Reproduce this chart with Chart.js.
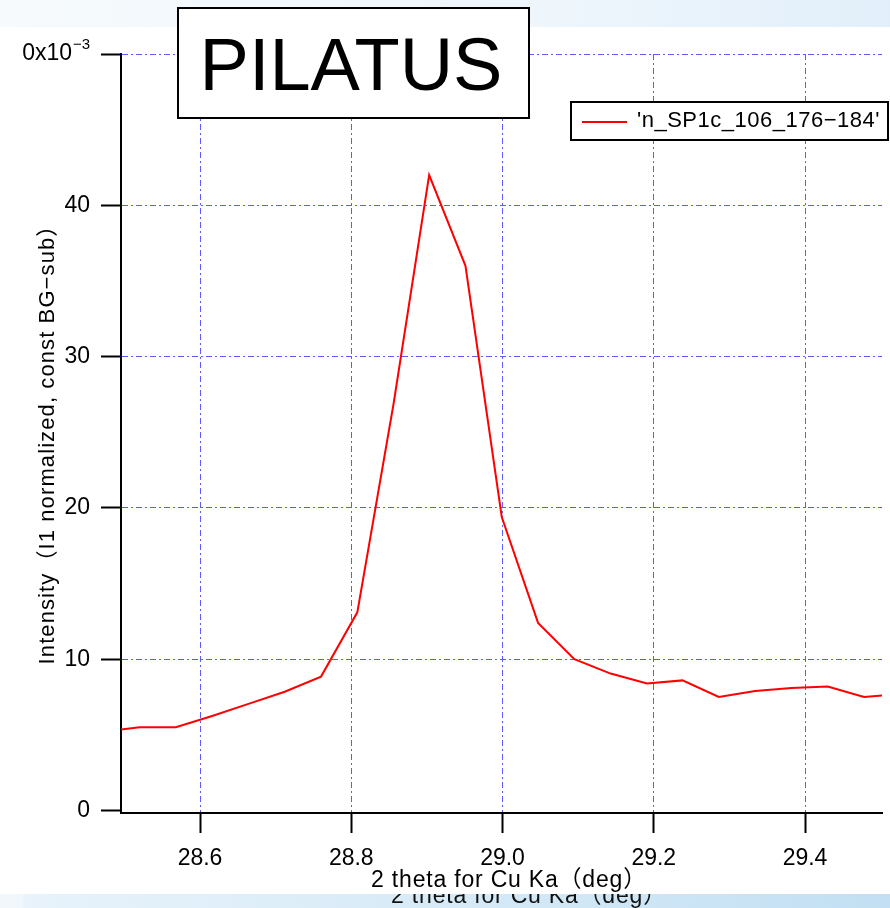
<!DOCTYPE html>
<html>
<head>
<meta charset="utf-8">
<script src="https://cdn.jsdelivr.net/npm/chart.js@4"></script>
<style>
  html, body { margin: 0; padding: 0; background: #fff; }
  #wrap { width: 890px; height: 908px; }
</style>
</head>
<body>
<div id="wrap"><canvas id="pilatusChart" width="890" height="908"></canvas></div>
<script>
// values (intensity in units of 10^-3)
const twoTheta = [28.472, 28.520, 28.568, 28.616, 28.664, 28.712, 28.760, 28.808, 28.856, 28.903, 28.951, 28.999,
	29.047, 29.095, 29.143, 29.191, 29.238, 29.286, 29.334, 29.382, 29.430, 29.478, 29.526];
const intensity = [5.2, 5.5, 5.5, 6.25, 7.05, 7.85, 8.85, 13.1, 26.9, 42.0, 36.0, 19.4,
	12.4, 10.0, 9.05, 8.4, 8.6, 7.5, 7.9, 8.1, 8.2, 7.5, 7.7];
const xTicks = [28.6, 28.8, 29.0, 29.2, 29.4];
const yTicks = [0, 10, 20, 30, 40, 50];
const seriesName = "'n_SP1c_106_176−184'";
const xTitle = "2 theta for Cu Ka（deg）";
const yTitle = "Intensity（I1 normalized, const BG−sub）";
const yExponent = "−3";
const panelLabel = "PILATUS";

const fontFamily = "'Liberation Sans', Arial, 'Noto Sans CJK JP', sans-serif";
const gridColor = "#5c5cff";

const decorations = {
	id: "decorations",
	beforeDraw(chart) {
		const ctx = chart.ctx;
		ctx.save();
		ctx.fillStyle = "#fff";
		ctx.fillRect(0, 0, 890, 908);

		// pale blue strip at the top
		const top = ctx.createLinearGradient(0, 0, 890, 0);
		top.addColorStop(0, "#f6fafd");
		top.addColorStop(0.55, "#f0f7fc");
		top.addColorStop(1, "#e2effa");
		ctx.fillStyle = top;
		ctx.fillRect(0, 0, 890, 27);

		// strip at the bottom with the ghost axis title
		ctx.fillStyle = "#f2f7fb";
		ctx.fillRect(0, 894, 23, 14);
		const bot = ctx.createLinearGradient(23, 0, 890, 0);
		bot.addColorStop(0, "#e8f3fb");
		bot.addColorStop(0.5, "#d6eaf7");
		bot.addColorStop(1, "#c2dff3");
		ctx.fillStyle = bot;
		ctx.fillRect(23, 894, 867, 14);
		ctx.beginPath();
		ctx.rect(23, 894, 867, 14);
		ctx.clip();
		ctx.fillStyle = "#111";
		ctx.font = "23px " + fontFamily;
		ctx.letterSpacing = "0.8px";
		ctx.textAlign = "center";
		ctx.textBaseline = "middle";
		ctx.fillText(xTitle, 529, 897);
		ctx.restore();
	},
	afterDraw(chart) {
		const ctx = chart.ctx;
		const yScale = chart.scales.y;
		ctx.save();
		ctx.fillStyle = "#000";

		// x axis title
		ctx.font = "23px " + fontFamily;
		ctx.letterSpacing = "0.8px";
		ctx.textAlign = "center";
		ctx.textBaseline = "middle";
		ctx.fillText(xTitle, 509, 881);

		// y axis title
		ctx.save();
		ctx.translate(48, 439);
		ctx.rotate(-Math.PI / 2);
		ctx.font = "22px " + fontFamily;
		ctx.letterSpacing = "1.1px";
		ctx.fillText(yTitle, 0, 0);
		ctx.restore();
		ctx.letterSpacing = "0px";

		// top tick label with exponent, cut by the left edge of the figure
		const yTop = yScale.getPixelForValue(yTicks[yTicks.length - 1]);
		ctx.save();
		ctx.beginPath();
		ctx.rect(22, 30, 80, 50);
		ctx.clip();
		ctx.font = "23px " + fontFamily;
		ctx.textAlign = "right";
		ctx.fillText(yTicks[yTicks.length - 1] + "x10", 72, yTop);
		ctx.font = "15px " + fontFamily;
		ctx.textAlign = "left";
		ctx.fillText(yExponent, 73, yTop - 9);
		ctx.restore();

		// legend box
		ctx.fillStyle = "#fff";
		ctx.fillRect(571, 102, 317, 38);
		ctx.strokeStyle = "#000";
		ctx.lineWidth = 2;
		ctx.strokeRect(571, 102, 317, 38);
		ctx.strokeStyle = "#ff0000";
		ctx.beginPath();
		ctx.moveTo(582, 122);
		ctx.lineTo(627, 122);
		ctx.stroke();
		ctx.fillStyle = "#000";
		ctx.font = "22px " + fontFamily;
		ctx.letterSpacing = "0.5px";
		ctx.textAlign = "left";
		ctx.fillText(chart.data.datasets[0].label, 637, 121);
		ctx.letterSpacing = "0px";

		// panel label
		ctx.fillStyle = "#fff";
		ctx.fillRect(178, 8, 351, 110);
		ctx.strokeStyle = "#000";
		ctx.lineWidth = 2;
		ctx.strokeRect(178, 8, 351, 110);
		ctx.fillStyle = "#000";
		ctx.font = "74px " + fontFamily;
		ctx.textAlign = "center";
		ctx.textBaseline = "alphabetic";
		ctx.fillText(panelLabel, 351, 90);
		ctx.restore();
	},
};

const points = twoTheta.map((x, i) => ({ x: x, y: intensity[i] }));

new Chart(document.getElementById("pilatusChart"), {
	type: "line",
	data: {
		datasets: [
			{
				label: seriesName,
				data: points,
				borderColor: "#ff0000",
				borderWidth: 2,
				pointRadius: 0,
				tension: 0,
				fill: false,
			},
		],
	},
	options: {
		responsive: false,
		animation: false,
		devicePixelRatio: 1,
		layout: { padding: { top: 54, right: 8, left: 0, bottom: 0 } },
		plugins: {
			legend: { display: false },
			tooltip: { enabled: false },
		},
		scales: {
			x: {
				type: "linear",
				position: "bottom",
				min: 28.4955,
				max: 29.5018,
				afterBuildTicks: (scale) => {
					scale.ticks = xTicks.map((v) => ({ value: v }));
				},
				afterFit: (scale) => {
					scale.height = 95;
				},
				ticks: {
					color: "#000",
					font: { family: fontFamily, size: 23 },
					padding: 12,
					maxRotation: 0,
					autoSkip: false,
					callback: (v) => Number(v).toFixed(1),
				},
				grid: {
					color: gridColor,
					lineWidth: 1,
					tickLength: 20,
					tickColor: "#000",
					tickWidth: 2,
					tickBorderDash: [],
				},
				border: { display: true, color: "#000", width: 2, dash: [6, 3, 2, 3] },
			},
			y: {
				type: "linear",
				position: "left",
				min: -0.165,
				max: 50,
				afterBuildTicks: (scale) => {
					scale.ticks = yTicks.map((v) => ({ value: v }));
				},
				afterFit: (scale) => {
					scale.width = 121;
				},
				ticks: {
					color: "#000",
					font: { family: fontFamily, size: 23 },
					padding: 11,
					callback: (v) => (v === yTicks[yTicks.length - 1] ? "" : v),
				},
				grid: {
					color: (c) => (c.tick && c.tick.value === 0 ? "rgba(0,0,0,0)" : gridColor),
					lineWidth: 1,
					tickLength: 20,
					tickColor: "#000",
					tickWidth: 2,
					tickBorderDash: [],
				},
				border: { display: true, color: "#000", width: 2, dash: [6, 3, 2, 3] },
			},
		},
	},
	plugins: [decorations],
});
</script>
</body>
</html>
